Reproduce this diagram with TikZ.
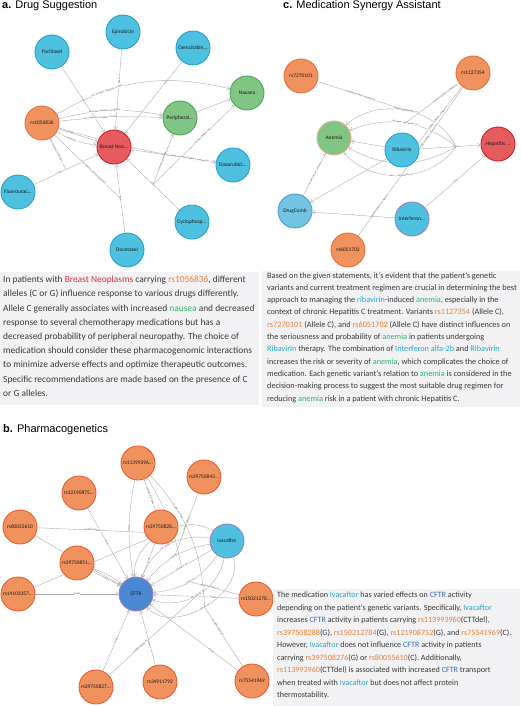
\documentclass[tikz,border=0pt]{standalone}
\usepackage{fontspec}
\setmainfont{Carlito}
\newfontfamily\headfont{Liberation Sans}
\usetikzlibrary{arrows.meta,positioning,calc,backgrounds}
\definecolor{drugfill}{HTML}{4EC0E0}
\definecolor{drugline}{HTML}{2A9FC8}
\definecolor{snpfill}{HTML}{F0925E}
\definecolor{snpline}{HTML}{E5703F}
\definecolor{disfill}{HTML}{E65B5E}
\definecolor{disline}{HTML}{C8202A}
\definecolor{symfill}{HTML}{80C583}
\definecolor{symline}{HTML}{4FA455}
\definecolor{genefill}{HTML}{4A88D2}
\definecolor{geneline}{HTML}{9A7FC0}
\definecolor{combfill}{HTML}{72C4E2}
\definecolor{combline}{HTML}{4B9ED4}
\definecolor{edgegray}{HTML}{AEAEAE}
\definecolor{panelbg}{HTML}{F2F2F4}
\definecolor{ink}{HTML}{3A3A3A}
\definecolor{hlred}{HTML}{D7343D}
\definecolor{hlorange}{HTML}{E8803A}
\definecolor{hlgreen}{HTML}{2DB46E}
\definecolor{hlteal}{HTML}{2AA5C8}
\definecolor{hlblue}{HTML}{3A6DB5}
\newcommand{\hred}[1]{\textcolor{hlred}{#1}}
\newcommand{\horange}[1]{\textcolor{hlorange}{#1}}
\newcommand{\hgreen}[1]{\textcolor{hlgreen}{#1}}
\newcommand{\hteal}[1]{\textcolor{hlteal}{#1}}
\newcommand{\hblue}[1]{\textcolor{hlblue}{#1}}
\tikzset{
  >={Straight Barb[length=2.8pt,width=4.2pt]},
  kg/.style={circle,minimum size=34pt,inner sep=0pt,line width=0.9pt,
    font=\fontsize{5.4}{6}\selectfont,text=black!90},
  drug/.style={kg,draw=drugline,fill=drugfill},
  snp/.style={kg,draw=snpline,fill=snpfill},
  disease/.style={kg,draw=disline,fill=disfill},
  symptom/.style={kg,draw=symline,fill=symfill},
  gene/.style={kg,draw=geneline,fill=genefill},
  combo/.style={kg,draw=combline,fill=combfill},
  rel/.style={->,draw=edgegray,line width=0.4pt},
  cond/.style={draw=edgegray,line width=0.4pt},
  lab/.style={font=\fontsize{2.5}{3}\selectfont,text=black!75,sloped,inner sep=0.2pt,fill=white},
  story/.style={anchor=north west,align=left,text=ink,inner sep=0pt},
  panel/.style={fill=panelbg,draw=none},
  head/.style={anchor=west,inner sep=0pt,font=\headfont\fontsize{11}{12}\selectfont},
}
\begin{document}
\begin{tikzpicture}[x=1pt,y=-1pt]
  \useasboundingbox (0,0) rectangle (520,706);
  % panel titles
  \node[head] (headA) at (2,6) {\textbf{a.} Drug Suggestion};
  \node[head] (headC) at (283,6) {\textbf{c.} Medication Synergy Assistant};
  \node[head] (headB) at (3,430) {\textbf{b.} Pharmacogenetics};

  % a: drug suggestion graph
  \node[drug] (epi) at (123,32) {Epirubicin};
  \node[drug] (pac) at (52,52) {Paclitaxel};
  \node[drug] (gem) at (193,48) {Gemcitabin...};
  \node[symptom] (nau) at (247,93) {Nausea};
  \node[symptom] (peri) at (180,118) {Peripheral...};
  \node[snp] (rsa) at (42,123) {rs1056836};
  \node[disease] (bn) at (114,147) {Breast Neo...};
  \node[drug] (dox) at (233,165) {Doxorubici...};
  \node[drug] (flu) at (18,192) {Fluorourac...};
  \node[drug] (cyc) at (192,222) {Cyclophosp...};
  \node[drug] (doc) at (127,250) {Docetaxel};

  % c: synergy graph
  \node[snp] (r72) at (301,76) {rs7270101};
  \node[snp] (r11) at (473,73) {rs1127354};
  \node[symptom,draw=snpline!60] (ane) at (334,138) {Anemia};
  \node[drug] (rib) at (402,150) {Ribavirin};
  \node[disease] (hep) at (498,144) {Hepatitis ...};
  \node[combo] (dc) at (295,211) {DrugComb};
  \node[drug,draw=geneline] (int) at (412,219) {Interferon...};
  \node[snp] (r60) at (348,250) {rs6051702};

  % b: pharmacogenetics graph
  \node[snp,draw=snpline!80!red] (r113) at (138,463) {rs11399396...};
  \node[snp,draw=snpline!80!red] (r843) at (204,477) {rs39750843...};
  \node[snp,draw=snpline!80!red] (r121) at (79,493) {rs12190875...};
  \node[snp,draw=snpline!80!red] (r800) at (20,527) {rs80055610};
  \node[snp,draw=snpline!80!red] (r828) at (161,527) {rs39750828...};
  \node[drug,draw=geneline] (iva) at (227,541) {Ivacaftor};
  \node[snp,draw=snpline!80!red] (r851) at (77,563) {rs39750851...};
  \node[snp,draw=snpline!80!red] (r141) at (18,594) {rs14103357...};
  \node[gene] (cftr) at (136,594) {CFTR};
  \node[snp,draw=snpline!80!red] (r150) at (256,599) {rs15021278...};
  \node[snp,draw=snpline!80!red] (r827) at (96,687) {rs39750827...};
  \node[snp,draw=snpline!80!red] (r349) at (160,682) {rs34911792};
  \node[snp,draw=snpline!80!red] (r755) at (252,681) {rs75541969};

  \begin{scope}[on background layer]
    % a edges
    \draw[rel] (pac) -- node[lab]{treat} (bn);
    \draw[rel] (epi) -- node[lab,pos=.4]{treat} (bn);
    \draw[rel] (gem) -- node[lab,pos=.3]{treat} (bn);
    \draw[rel] (dox) -- node[lab]{treat} (bn);
    \draw[rel] (cyc) -- node[lab]{treat} coordinate (cycT) (bn);
    \draw[rel] (doc) -- node[lab]{treat} coordinate (docT) (bn);
    \draw[rel] (flu) -- node[lab,pos=.4]{treat} coordinate (fluT) (bn);
    \draw[rel] (peri) -- (nau);
    \draw[rel] (cycT) -- node[lab,pos=.6]{increase\_degree\_of} (nau);
    \draw[rel] (cycT) -- node[lab]{decrease\_probability\_of} (peri);
    \draw[rel] (rsa) to[bend left=22] node[lab,pos=.3]{not\_increase\_response\_to (Alle...} (nau);
    \draw[rel] (rsa) to[bend left=12] node[lab,pos=.45]{decrease\_response\_to (Allele C...} (peri);
    \draw[rel] (rsa) to[bend left=4] node[lab,pos=.4]{not\_response\_to (Allele C compa...} (peri);
    \draw[rel] (rsa) to[bend right=4] node[lab,pos=.88]{condition (Allele C compare to...} (dox);
    \draw[rel] (rsa) -- node[lab,pos=.3]{condition} (bn);
    \draw[rel] (rsa) to[bend right=12] node[lab,pos=.4]{decrease...} (bn);
    \draw[cond] (rsa) -- node[lab,pos=.35]{increase\_response\_to (Allele C...} (fluT);
    \draw[cond] (rsa) -- node[lab,pos=.6]{not\_response\_to (Genotype GG)...} (docT);

    % c edges
    \draw[rel] (rib) -- node[lab,pos=.6]{treat} coordinate[pos=.6] (ribT) (hep);
    \draw[rel] (ribT) to[bend right=52] node[lab]{increase\_probability\_of} coordinate (cA) (ane);
    \draw[rel] (ribT) to[bend right=30] node[lab]{decrease\_seriousness\_of} coordinate (cB) (ane);
    \draw[rel] (rib) -- (ane);
    \draw[rel] (ribT) to[bend left=30] node[lab]{decrease\_seriousness\_of} coordinate (cC) (ane);
    \draw[rel] (ribT) to[bend left=52] node[lab]{decr...\_seriousness\_of} coordinate (cD) (ane);
    \draw[cond] (r72) -- node[lab]{condition (Allele C compare to...} (cA);
    \draw[cond] (r11) -- node[lab,pos=.25]{condition (Allele C compare to...} (cB);
    \draw[cond] (r11) -- node[lab,pos=.4]{condition (Allele C compare to...} (cC);
    \draw[cond] (r11) -- node[lab,pos=.55]{condition (Allele C compare to...} (cD);
    \draw[cond] (r60) -- node[lab]{condition (Allele C compare to...} (cD);
    \draw[rel] (rib) -- node[lab]{is} (dc);
    \draw[rel] (int) -- node[lab]{is} (dc);
    \draw[rel] (int) -- node[lab]{treat} (hep);
    \draw[rel] (dc) -- node[lab]{increase\_risk\_or\_severity} (ane);

    % b edges
    \draw[rel] (r141) -- node[lab]{locate} (cftr);
    \draw[rel] (r800) -- (cftr);
    \draw[rel] (r851) -- node[lab]{locate} (cftr);
    \draw[rel] (r851) to[bend left=8] (cftr);
    \draw[rel] (r121) -- node[lab]{locate} (cftr);
    \draw[rel] (r827) -- node[lab]{locate} (cftr);
    \draw[rel] (r349) -- node[lab,pos=.4]{locate} (cftr);
    \draw[rel] (r755) -- node[lab,pos=.3]{locate} (cftr);
    \draw[rel] (r150) -- node[lab,pos=.3]{locate} (cftr);
    \draw[rel] (r828) -- node[lab]{locate} (cftr);
    \draw[rel] (r113) to[bend right=10] node[lab]{locate} (cftr);
    \draw[rel] (iva) -- node[lab]{transport\_of} coordinate (i0) (cftr);
    \draw[rel] (iva) to[bend left=25] node[lab]{activity\_of} coordinate (i1) (cftr);
    \draw[rel] (iva) to[bend left=50] node[lab]{not\_activity\_of} coordinate (i2) (cftr);
    \draw[rel] (iva) to[bend left=80] node[lab]{activity\_of} coordinate (i3) (cftr);
    \draw[rel] (iva) to[bend right=20] node[lab]{activity\_of} coordinate (i4) (cftr);
    \draw[rel] (iva) to[bend right=40] node[lab]{not\_protein\_the...} coordinate (i5) (cftr);
    \draw[rel] (iva) to[bend right=65] node[lab]{activity\_of} coordinate (i6) (cftr);
    \draw[cond] (r800) -- node[lab,pos=.45]{condition (Allele C)} (i6);
    \draw[cond] (r141) -- node[lab,pos=.3]{condition (Allele T)} (i6);
    \draw[cond] (r827) -- node[lab,pos=.35]{condition (Allele G)} (i2);
    \draw[cond] (r843) -- node[lab]{condition (Allele G)} (i4);
    \draw[cond] (r150) -- node[lab,pos=.6]{condition (Allele G)} (i1);
    \draw[cond] (r755) -- node[lab,pos=.65]{condition (Allele C)} (i3);
    \draw[cond] (r113) to[bend left=10] (i0);
    \draw[cond] (r113) -- node[lab,pos=.25]{condition (CTTdel)} (i5);
    \draw[cond] (r113) to[bend left=20] node[lab,pos=.3]{condition (CTTdel)} (i3);
  \end{scope}

  % text panels
  \fill[panel] (0,272) rectangle (259,405);
  \node[story,font=\fontsize{9.4}{14.2}\selectfont] (storyA) at (3,276) {%
    In patients with \hred{Breast Neoplasms} carrying \horange{rs1056836}, different\\
    alleles (C or G) influence response to various drugs differently.\\
    Allele C generally associates with increased \hgreen{nausea} and decreased\\
    response to several chemotherapy medications but has a\\
    decreased probability of peripheral neuropathy. The choice of\\
    medication should consider these pharmacogenomic interactions\\
    to minimize adverse effects and optimize therapeutic outcomes.\\
    Specific recommendations are made based on the presence of C\\
    or G alleles.};

  \fill[panel] (262,271) rectangle (520,407);
  \node[story,font=\fontsize{8.25}{12.3}\selectfont] (storyC) at (267,272) {%
    Based on the given statements, it's evident that the patient's genetic\\
    variants and current treatment regimen are crucial in determining the best\\
    approach to managing the \hteal{ribavirin}-induced \hgreen{anemia}, especially in the\\
    context of chronic Hepatitis C treatment. Variants \horange{rs1127354} (Allele C),\\
    \horange{rs7270101} (Allele C), and \horange{rs6051702} (Allele C) have distinct influences on\\
    the seriousness and probability of \hgreen{anemia} in patients undergoing\\
    \hteal{Ribavirin} therapy. The combination of \hteal{Interferon alfa-2b} and \hteal{Ribavirin}\\
    increases the risk or severity of \hgreen{anemia}, which complicates the choice of\\
    medication. Each genetic variant's relation to \hgreen{anemia} is considered in the\\
    decision-making process to suggest the most suitable drug regimen for\\
    reducing \hgreen{anemia} risk in a patient with chronic Hepatitis C.};

  \fill[panel] (273,589) rectangle (520,706);
  \node[story,font=\fontsize{8.1}{12.5}\selectfont] (storyB) at (277,592) {%
    The medication \hteal{Ivacaftor} has varied effects on \hblue{CFTR} activity\\
    depending on the patient's genetic variants. Specifically, \hteal{Ivacaftor}\\
    increases \hblue{CFTR} activity in patients carrying \horange{rs113993960}(CTTdel),\\
    \horange{rs397508288}(G), \horange{rs150212784}(G), \horange{rs121908752}(G), and \horange{rs75541969}(C).\\
    However, \hteal{Ivacaftor} does not influence \hblue{CFTR} activity in patients\\
    carrying \horange{rs397508276}(G) or \horange{rs80055610}(C). Additionally,\\
    \horange{rs113993960}(CTTdel) is associated with increased \hblue{CFTR} transport\\
    when treated with \hteal{Ivacaftor} but does not affect protein\\
    thermostability.};
\end{tikzpicture}
\end{document}
